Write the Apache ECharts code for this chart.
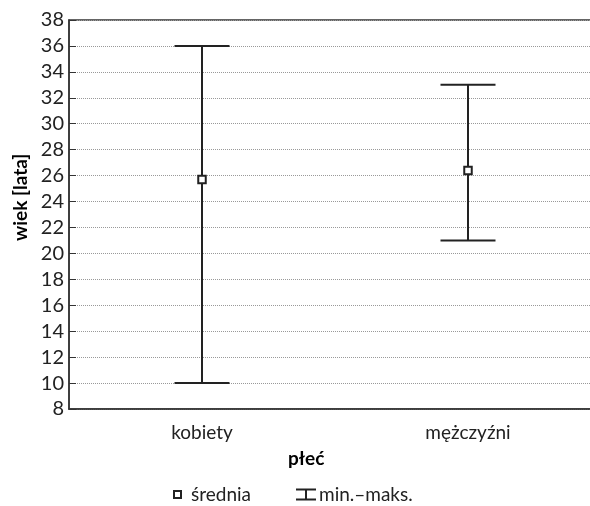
<!DOCTYPE html>
<html>
<head>
<meta charset="utf-8">
<script src="https://cdn.jsdelivr.net/npm/echarts@6/dist/echarts.min.js"></script>
<style>
  html, body { margin: 0; padding: 0; background: #fff; overflow: hidden; }
  #main { width: 612px; height: 506px; }
</style>
</head>
<body>
<div id="main"></div>
<script>
const categories = ['kobiety', 'mężczyźni'];
const meanValues = [25.7, 26.4];
const minValues = [10, 21];
const maxValues = [36, 33];

const font = 'Lato';
const ink = '#222';

let chart = echarts.init(document.getElementById('main'));

// plot runs past the right edge of the 590px window, like the original
const option = {
  animation: false,
  grid: {
    left: 69, top: 20, width: 532, height: 389,
    show: true, borderColor: '#333', borderWidth: 1.5
  },
  graphic: [
    {
      type: 'text', rotation: Math.PI / 2, x: 11, y: 241,
      style: { text: 'wiek [lata]', font: 'bold 19px ' + font, fill: '#000' }
    },
    {
      type: 'text', left: 288, top: 449,
      style: { text: 'płeć', font: 'bold 19px ' + font, fill: '#000' }
    }
  ],
  legend: [
    {
      data: ['średnia'],
      left: 173, top: 485, padding: 0,
      itemWidth: 7, itemHeight: 7,
      icon: 'rect',
      itemStyle: { color: '#fff', borderColor: ink, borderWidth: 2 },
      textStyle: { fontFamily: font, fontSize: 19, color: ink, padding: [0, 0, 0, 5] }
    },
    {
      data: ['min.–maks.'],
      left: 296, top: 485, padding: 0,
      itemWidth: 20, itemHeight: 12,
      icon: 'path://M0,0H20V2H11V10H20V12H0V10H9V2H0Z',
      itemStyle: { color: ink },
      textStyle: { fontFamily: font, fontSize: 19, color: ink, padding: [0, 0, 0, -2] }
    }
  ],
  xAxis: {
    type: 'category',
    data: categories,
    axisLine: { lineStyle: { color: '#333', width: 1.5 } },
    axisTick: { inside: true, length: 6, alignWithLabel: true, lineStyle: { color: '#333' } },
    axisLabel: { fontFamily: font, fontSize: 19, color: ink, margin: 14 }
  },
  yAxis: {
    type: 'value',
    min: 8, max: 38, interval: 2,
    axisLine: { show: true, lineStyle: { color: '#333', width: 1.5 } },
    axisTick: { show: true, inside: true, length: 7, lineStyle: { color: '#333' } },
    axisLabel: { fontFamily: font, fontSize: 20, color: ink, margin: 5 },
    splitLine: { lineStyle: { color: '#999', type: [1, 1], width: 1 } }
  },
  series: [
    {
      name: 'min.–maks.',
      type: 'custom',
      data: categories.map((c, i) => [i, minValues[i], maxValues[i]]),
      renderItem: function (params, api) {
        const lo = api.coord([api.value(0), api.value(1)]);
        const hi = api.coord([api.value(0), api.value(2)]);
        const half = 27.5;
        const style = { stroke: ink, lineWidth: 2 };
        return {
          type: 'group',
          children: [
            { type: 'line', shape: { x1: hi[0], y1: hi[1], x2: lo[0], y2: lo[1] }, style },
            { type: 'line', shape: { x1: hi[0] - half, y1: hi[1], x2: hi[0] + half, y2: hi[1] }, style },
            { type: 'line', shape: { x1: lo[0] - half, y1: lo[1], x2: lo[0] + half, y2: lo[1] }, style }
          ]
        };
      },
      z: 2
    },
    {
      name: 'średnia',
      type: 'scatter',
      data: meanValues,
      symbol: 'rect',
      symbolSize: 7.5,
      itemStyle: { color: '#fff', borderColor: ink, borderWidth: 2, opacity: 1 },
      z: 3
    }
  ]
};

chart.setOption(option);
</script>
</body>
</html>
